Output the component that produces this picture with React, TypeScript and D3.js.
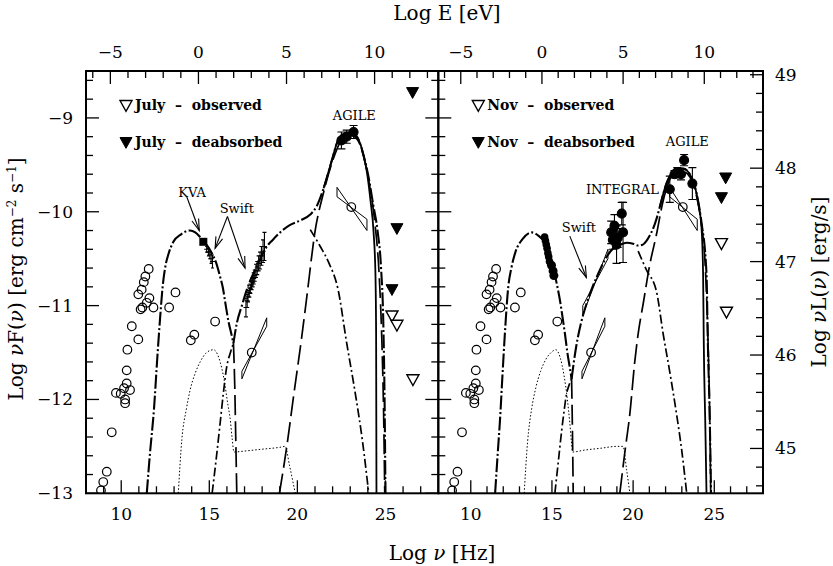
import React from "react";
import * as d3 from "d3";

type Pt = [number, number];
type ErrPt = [number, number, number];

// ---------------- axis constants / tick labels ----------------
const LOG_HZ_PER_EV = 14.3836;
const nuDomain: Pt = [8, 28];
const fDomain: Pt = [-13, -8.5];
const lDomain: Pt = [44.52, 49.04];
const nuTickLabels = [10, 15, 20, 25];
const eTickLabels = [-5, 0, 5, 10];
const fTickLabels = [-13, -12, -11, -10, -9];
const lTickLabels = [45, 46, 47, 48, 49];

// ---------------- archival data (both panels) ----------------
const archivalCircles: Pt[] = [
  [8.85, -12.97], [8.98, -12.88], [9.18, -12.77], [9.46, -12.35], [9.7, -11.93],
  [9.97, -11.94], [10.16, -11.88], [10.22, -12.0], [10.22, -12.04], [10.31, -11.83],
  [10.5, -11.9], [10.31, -11.69], [10.35, -11.47], [10.6, -11.22], [10.97, -11.36],
  [10.97, -10.88], [11.16, -10.83], [11.1, -11.04], [11.2, -11.02], [11.45, -10.97],
  [11.6, -10.92], [11.83, -11.02], [11.28, -10.75], [11.37, -10.69], [11.56, -10.61],
  [12.72, -11.02], [13.08, -10.86], [13.95, -11.37], [14.15, -11.31], [15.33, -11.17],
  [17.41, -11.5], [23.06, -9.95],
];
const archivalXrayBowtie: Pt[] = [[16.85, -11.78], [18.26, -11.13], [18.26, -11.22], [16.85, -11.7]];
const archivalGammaBowtie: Pt[] = [[22.25, -9.74], [23.95, -10.2], [23.95, -10.08], [22.25, -9.84]];

// ---------------- July data ----------------
const julyKVA: Pt[] = [[14.66, -10.32]];
const julyUVOT: ErrPt[] = [[14.85, -10.4, 0.03], [14.95, -10.43, 0.04], [15.03, -10.46, 0.04], [15.1, -10.5, 0.05], [15.18, -10.53, 0.07]];
const julyXRT: ErrPt[] = [
  [17.08, -11.02, 0.1], [17.15, -10.95, 0.07], [17.2, -10.9, 0.06], [17.27, -10.86, 0.05],
  [17.33, -10.82, 0.05], [17.4, -10.78, 0.05], [17.46, -10.75, 0.05], [17.52, -10.71, 0.06],
  [17.58, -10.68, 0.06], [17.65, -10.63, 0.07], [17.72, -10.6, 0.07], [17.8, -10.55, 0.08],
  [17.88, -10.52, 0.09], [17.96, -10.47, 0.1], [18.05, -10.42, 0.12], [18.13, -10.37, 0.15],
];
const julyAGILE: ErrPt[] = [[22.5, -9.24, 0.09], [22.8, -9.2, 0.07], [23.19, -9.15, 0.07]];
const julyObserved: Pt[] = [[25.37, -11.11], [25.65, -11.21], [26.56, -11.79]];
const julyDeabsorbed: Pt[] = [[26.54, -8.73], [25.65, -10.18], [25.37, -10.83]];

// July model curves
const julyTotalLow: Pt[] = [
  [11.45, -13], [11.62, -12.6], [11.86, -12.1], [12.05, -11.55], [12.2, -11.15], [12.35, -10.8],
  [12.49, -10.6], [12.7, -10.44], [12.96, -10.32], [13.4, -10.24], [13.9, -10.2], [14.2, -10.22],
  [14.48, -10.27], [14.8, -10.34], [15.14, -10.44], [15.4, -10.55], [15.61, -10.69], [15.78, -10.82],
  [15.9, -10.96], [16.09, -11.17], [16.25, -11.3], [16.37, -11.4],
];
const julyTotalHigh: Pt[] = [
  [16.37, -11.4], [16.56, -11.19], [16.85, -11.0], [17.13, -10.83], [17.4, -10.7], [17.7, -10.58],
  [18.0, -10.46], [18.27, -10.37], [18.6, -10.3], [19.02, -10.22], [19.59, -10.14], [20.2, -10.09],
  [20.73, -10.03], [21.1, -9.94], [21.49, -9.75], [21.96, -9.45], [22.24, -9.27], [22.53, -9.18],
  [23.0, -9.15], [23.38, -9.2], [23.76, -9.4], [24.04, -9.63], [24.3, -9.92], [24.55, -10.2],
  [24.75, -10.6], [24.88, -11.2], [24.95, -12.0], [25.0, -13],
];
const julyAbsorbed: Pt[] = [
  [21.49, -9.75], [21.96, -9.45], [22.24, -9.27], [22.53, -9.18], [23.0, -9.15], [23.38, -9.2],
  [23.76, -9.4], [23.95, -9.58], [24.15, -9.88], [24.33, -10.23], [24.43, -10.65], [24.47, -11.3], [24.49, -13],
];
const julySyncTail: Pt[] = [[16.37, -11.4], [16.45, -11.9], [16.5, -12.4], [16.56, -13]];
const julySscLow: Pt[] = [[15.16, -13], [15.4, -12.62], [15.61, -12.26], [15.8, -11.93], [15.99, -11.65], [16.2, -11.5], [16.37, -11.4]];
const julySscHigh: Pt[] = [[20.73, -10.19], [21.3, -10.37], [21.8, -10.55], [22.3, -10.82], [22.8, -11.4], [23.3, -11.95], [23.7, -12.45], [24.05, -13]];
const julyEC: Pt[] = [
  [18.98, -13], [19.4, -12.5], [19.78, -11.97], [20.25, -11.33], [20.54, -10.9], [21.01, -10.2],
  [21.48, -9.8], [21.96, -9.48], [22.5, -9.24], [23.0, -9.18], [23.4, -9.23], [23.8, -9.44],
  [24.1, -9.72], [24.4, -10.12], [24.65, -10.7], [24.8, -11.4], [24.9, -12.2], [24.96, -13],
];
const julyDisk: Pt[] = [
  [13.24, -13], [13.44, -12.43], [13.7, -12.1], [13.91, -11.9], [14.2, -11.72], [14.48, -11.6],
  [14.85, -11.5], [15.24, -11.47], [15.55, -11.56], [15.85, -11.8], [16.05, -12.05], [16.18, -12.2],
  [16.3, -12.42], [16.4, -12.56], [17.0, -12.55], [18.0, -12.53], [19.0, -12.51], [19.31, -12.5],
  [19.55, -12.7], [19.75, -12.88], [19.88, -13],
];

// ---------------- November data ----------------
const novSwiftUV: Pt[] = [
  [14.55, -10.27], [14.6, -10.31], [14.65, -10.35], [14.7, -10.39], [14.75, -10.44],
  [14.8, -10.48], [14.85, -10.53], [14.97, -10.57], [15.07, -10.63], [15.12, -10.68],
];
const novXrtBowtie: Pt[] = [[16.9, -11.1], [18.45, -10.4], [18.45, -10.5], [16.9, -11.0]];
const novINTEGRAL: ErrPt[] = [
  [18.65, -10.22, 0.12], [18.75, -10.3, 0.1], [18.85, -10.15, 0.12], [18.98, -10.35, 0.2],
  [19.05, -10.28, 0.1], [19.3, -10.02, 0.12], [19.38, -10.22, 0.32],
];
const novAGILE: ErrPt[] = [
  [22.26, -9.76, 0.14], [22.55, -9.6, 0.04], [22.72, -9.58, 0.05], [22.95, -9.6, 0.06],
  [23.14, -9.45, 0.06], [23.65, -9.7, 0.17],
];
const novObserved: Pt[] = [[25.44, -10.34], [25.75, -11.07]];
const novDeabsorbed: Pt[] = [[25.7, -9.64], [25.44, -9.85]];

const novTotalLow: Pt[] = [
  [11.5, -13], [11.65, -12.6], [11.8, -12.22], [11.95, -11.75], [12.1, -11.3], [12.31, -10.8],
  [12.5, -10.6], [12.75, -10.43], [13.2, -10.29], [13.75, -10.22], [14.2, -10.26], [14.67, -10.36],
  [14.9, -10.48], [15.08, -10.6], [15.3, -10.77], [15.49, -10.94], [15.65, -11.12], [15.8, -11.3],
  [15.95, -11.5], [16.1, -11.66], [16.21, -11.78],
];
const novTotalHigh: Pt[] = [
  [16.21, -11.78], [16.35, -11.6], [16.51, -11.42], [16.8, -11.18], [17.13, -10.98], [17.5, -10.8],
  [17.85, -10.66], [18.3, -10.5], [18.77, -10.39], [19.2, -10.35], [19.6, -10.33], [20.0, -10.34],
  [20.31, -10.36], [20.6, -10.35], [20.82, -10.31], [21.0, -10.26], [21.23, -10.18], [21.45, -10.07],
  [21.64, -9.95], [22.05, -9.7], [22.36, -9.59], [22.67, -9.54], [23.08, -9.54], [23.49, -9.6],
  [23.9, -9.8], [24.2, -10.1], [24.52, -10.66], [24.6, -11.37], [24.72, -12.2], [24.8, -13],
];
const novAbsorbed: Pt[] = [
  [21.64, -9.95], [22.05, -9.7], [22.36, -9.59], [22.67, -9.54], [23.08, -9.54], [23.49, -9.6],
  [23.9, -9.8], [24.1, -10.0], [24.21, -10.16], [24.31, -10.66], [24.35, -11.37], [24.45, -12.3], [24.52, -13],
];
const novSyncTail: Pt[] = [[16.21, -11.78], [16.26, -12.3], [16.31, -13]];
const novSscLow: Pt[] = [[15.18, -13], [15.4, -12.65], [15.6, -12.33], [15.75, -12.12], [15.9, -11.94], [16.05, -11.85], [16.21, -11.78]];
const novSscHigh: Pt[] = [[20.31, -10.42], [20.82, -10.62], [21.44, -10.85], [21.85, -11.3], [22.3, -11.75], [22.67, -12.15], [23.0, -12.55], [23.3, -13]];
const novEC: Pt[] = [
  [19.18, -13], [19.5, -12.55], [19.8, -12.15], [20.1, -11.6], [20.31, -11.3], [20.62, -10.98],
  [21.03, -10.56], [21.44, -10.24], [21.8, -9.92], [22.2, -9.68], [22.67, -9.57], [23.08, -9.57],
  [23.5, -9.63], [23.9, -9.83], [24.2, -10.12], [24.45, -10.6], [24.6, -11.3], [24.72, -12.2], [24.78, -13],
];
const novDisk: Pt[] = [
  [13.29, -13], [13.5, -12.45], [13.75, -12.1], [14.0, -11.88], [14.3, -11.7], [14.6, -11.58],
  [14.95, -11.5], [15.24, -11.47], [15.5, -11.55], [15.75, -11.75], [15.95, -12.0], [16.1, -12.25],
  [16.2, -12.45], [16.27, -12.56], [17.0, -12.54], [18.0, -12.52], [19.0, -12.5], [19.38, -12.5],
  [19.6, -12.75], [19.8, -13],
];

// ---------------- annotations (data coords) ----------------
const julyLabels: { t: string; at: Pt }[] = [
  { t: "KVA", at: [14.02, -9.84] },
  { t: "Swift", at: [16.56, -10.01] },
  { t: "AGILE", at: [23.23, -9.02] },
];
const julyArrows: Pt[][] = [
  [[13.72, -9.84], [14.43, -10.2]],
  [[16.03, -10.05], [15.33, -10.39]],
  [[16.03, -10.05], [17.03, -10.6]],
];
const novLabels: { t: string; at: Pt }[] = [
  { t: "Swift", at: [16.66, -10.22] },
  { t: "INTEGRAL", at: [19.34, -9.81] },
  { t: "AGILE", at: [23.34, -9.3] },
];
const novArrows: Pt[][] = [[[16.1, -10.26], [17.12, -10.7]]];

// ---------------- layout ----------------
const W = 833, H = 566;
const Y_TOP = 71, Y_BOT = 493.3;
const yF = d3.scaleLinear().domain(fDomain).range([Y_BOT, Y_TOP]);
const yL = d3.scaleLinear().domain(lDomain).range([Y_BOT, Y_TOP]);
const xLeft = d3.scaleLinear().domain(nuDomain).range([86, 438.3]);
const xRight = d3.scaleLinear().domain(nuDomain).range([438.3, 763]);

const FONT = "'DejaVu Serif', serif";
const MAJ = 13, MIN = 7;

const styles: Record<string, { w: number; dash?: string }> = {
  total: { w: 2.1, dash: "14,2.5,2,2.5" },
  abs: { w: 1.8 },
  ssc: { w: 1.7, dash: "9,3,2,3" },
  ldash: { w: 1.7, dash: "20,6" },
  dot: { w: 1, dash: "1.5,2" },
};

const fmt = (v: number) => (v < 0 ? "\u2212" + Math.abs(v) : String(v));
const isInt = (v: number) => Math.abs(v - Math.round(v)) < 1e-6;

type Cfg = {
  id: string;
  xs: d3.ScaleLinear<number, number>;
  curves: { d: Pt[]; s: string }[];
  bowties: Pt[][];
  circles: Pt[];
  observed: Pt[];
  deabsorbed: Pt[];
  labels: { t: string; at: Pt }[];
  arrows: Pt[][];
  legend: string;
  leftLabels: boolean;
  rightL: boolean;
  extra: (xs: d3.ScaleLinear<number, number>) => React.ReactNode;
};

const triPath = (cx: number, cy: number) => `M${cx - 6},${cy - 5} L${cx + 6},${cy - 5} L${cx},${cy + 5.8} Z`;

function ErrBars({ xs, data, cap, dot }: { xs: d3.ScaleLinear<number, number>; data: ErrPt[]; cap: number; dot: "circle" | "cross" }) {
  return (
    <g stroke="#000" strokeWidth={1.1}>
      {data.map(([n, f, e], i) => {
        const x = xs(n), y = yF(f), yt = yF(f + e), yb = yF(f - e);
        return (
          <g key={i}>
            <line x1={x} x2={x} y1={yt} y2={yb} />
            <line x1={x - cap / 2} x2={x + cap / 2} y1={yt} y2={yt} />
            <line x1={x - cap / 2} x2={x + cap / 2} y1={yb} y2={yb} />
            {dot === "circle" ? (
              <circle cx={x} cy={y} r={4.5} fill="#000" />
            ) : (
              <line x1={x - 2.5} x2={x + 2.5} y1={y} y2={y} />
            )}
          </g>
        );
      })}
    </g>
  );
}

function Arrow({ xs, a }: { xs: d3.ScaleLinear<number, number>; a: Pt[] }) {
  const x1 = xs(a[0][0]), y1 = yF(a[0][1]), x2 = xs(a[1][0]), y2 = yF(a[1][1]);
  const th = Math.atan2(y2 - y1, x2 - x1);
  const L = 12, sp = 0.3;
  const h1 = [x2 - L * Math.cos(th - sp), y2 - L * Math.sin(th - sp)];
  const h2 = [x2 - L * Math.cos(th + sp), y2 - L * Math.sin(th + sp)];
  return (
    <g stroke="#000" strokeWidth={1.1} fill="none">
      <line x1={x1} y1={y1} x2={x2} y2={y2} />
      <polyline points={`${h1[0]},${h1[1]} ${x2},${y2} ${h2[0]},${h2[1]}`} />
    </g>
  );
}

function Panel({ cfg }: { cfg: Cfg }) {
  const { xs } = cfg;
  const [x0, x1] = xs.range();
  const gen = d3.line<Pt>().x((d) => xs(d[0])).y((d) => yF(d[1])).curve(d3.curveMonotoneX);
  const nuMinor = d3.range(9, 28);
  const eMinor = d3.range(-7, 15).filter((e) => {
    const x = xs(e + LOG_HZ_PER_EV);
    return x > x0 + 1 && x < x1 - 1;
  });
  const fTicks = d3.range(0, 23).map((k) => -13 + k * 0.2);
  const lTicks = d3.range(0, 23).map((k) => 44.6 + k * 0.2);
  const clip = `clip-${cfg.id}`;
  const legX = x0 + 40;
  return (
    <g>
      <defs>
        <clipPath id={clip}>
          <rect x={x0} y={Y_TOP} width={x1 - x0} height={Y_BOT - Y_TOP} />
        </clipPath>
      </defs>
      <g clipPath={`url(#${clip})`}>
        {cfg.curves.map((c, i) => (
          <path key={i} d={gen(c.d) || ""} fill="none" stroke="#000" strokeWidth={styles[c.s].w}
            strokeDasharray={styles[c.s].dash} />
        ))}
        {cfg.bowties.map((b, i) => (
          <path key={i} d={"M" + b.map((p) => `${xs(p[0])},${yF(p[1])}`).join("L") + "Z"} fill="none" stroke="#000" strokeWidth={1} />
        ))}
        {cfg.circles.map((p, i) => (
          <circle key={i} cx={xs(p[0])} cy={yF(p[1])} r={4.3} fill="none" stroke="#000" strokeWidth={1.2} />
        ))}
        {cfg.extra(xs)}
        {cfg.observed.map((p, i) => (
          <path key={i} d={triPath(xs(p[0]), yF(p[1]))} fill="#fff" stroke="#000" strokeWidth={1.4} />
        ))}
        {cfg.deabsorbed.map((p, i) => (
          <path key={i} d={triPath(xs(p[0]), yF(p[1]))} fill="#000" stroke="#000" strokeWidth={1} />
        ))}
        {cfg.arrows.map((a, i) => <Arrow key={i} xs={xs} a={a} />)}
      </g>
      {cfg.labels.map((l, i) => (
        <text key={i} x={xs(l.at[0])} y={yF(l.at[1])} textAnchor="middle" fontFamily={FONT} fontSize={13}>{l.t}</text>
      ))}
      {/* legend */}
      <path d={triPath(legX, 105.5)} fill="#fff" stroke="#000" strokeWidth={1.4} />
      <path d={triPath(legX, 142.5)} fill="#000" stroke="#000" strokeWidth={1} />
      <text x={legX + 9} y={110} fontFamily={FONT} fontWeight="bold" fontSize={14} style={{ whiteSpace: "pre" }}>
        {cfg.legend + "  \u2013  observed"}
      </text>
      <text x={legX + 9} y={147} fontFamily={FONT} fontWeight="bold" fontSize={14} style={{ whiteSpace: "pre" }}>
        {cfg.legend + "  \u2013  deabsorbed"}
      </text>

      {/* ticks */}
      <g stroke="#000" strokeWidth={1.3}>
        {nuMinor.map((v) => {
          const x = xs(v), L = v % 5 === 0 ? MAJ : MIN;
          return <line key={"b" + v} x1={x} x2={x} y1={Y_BOT} y2={Y_BOT - L} />;
        })}
        {eMinor.map((e) => {
          const x = xs(e + LOG_HZ_PER_EV), L = e % 5 === 0 ? MAJ : MIN;
          return <line key={"t" + e} x1={x} x2={x} y1={Y_TOP} y2={Y_TOP + L} />;
        })}
        {fTicks.map((v, i) => {
          const y = yF(v), L = isInt(v) ? MAJ : MIN;
          return <line key={"l" + i} x1={x0} x2={x0 + L} y1={y} y2={y} />;
        })}
        {cfg.rightL
          ? lTicks.map((v, i) => {
              const y = yL(v), L = isInt(v) ? MAJ : MIN;
              return <line key={"r" + i} x1={x1} x2={x1 - L} y1={y} y2={y} />;
            })
          : fTicks.map((v, i) => {
              const y = yF(v), L = isInt(v) ? MAJ : MIN;
              return <line key={"r" + i} x1={x1} x2={x1 - L} y1={y} y2={y} />;
            })}
      </g>
      <rect x={x0} y={Y_TOP} width={x1 - x0} height={Y_BOT - Y_TOP} fill="none" stroke="#000" strokeWidth={2} />

      {/* tick labels */}
      <g fontFamily={FONT} fontSize={17} fill="#000">
        {nuTickLabels.map((v) => (
          <text key={"bl" + v} x={xs(v)} y={520} textAnchor="middle">{fmt(v)}</text>
        ))}
        {eTickLabels.map((e) => (
          <text key={"tl" + e} x={xs(e + LOG_HZ_PER_EV)} y={58} textAnchor="middle">{fmt(e)}</text>
        ))}
        {cfg.leftLabels &&
          fTickLabels.map((v) => (
            <text key={"ll" + v} x={x0 - 13} y={yF(v) + 6} textAnchor="end">{fmt(v)}</text>
          ))}
        {cfg.rightL &&
          lTickLabels.map((v) => (
            <text key={"rl" + v} x={x1 + 12} y={yL(v) + 6} textAnchor="start">{fmt(v)}</text>
          ))}
      </g>
    </g>
  );
}

const julyCfg: Cfg = {
  id: "july",
  xs: xLeft,
  curves: [
    { d: julyDisk, s: "dot" },
    { d: julySscLow, s: "ssc" },
    { d: julySscHigh, s: "ssc" },
    { d: julyEC, s: "ldash" },
    { d: julySyncTail, s: "ldash" },
    { d: julyTotalLow, s: "total" },
    { d: julyTotalHigh, s: "total" },
    { d: julyAbsorbed, s: "abs" },
  ],
  bowties: [archivalXrayBowtie, archivalGammaBowtie],
  circles: archivalCircles,
  observed: julyObserved,
  deabsorbed: julyDeabsorbed,
  labels: julyLabels,
  arrows: julyArrows,
  legend: "July",
  leftLabels: true,
  rightL: false,
  extra: (xs) => (
    <g>
      {julyKVA.map((p, i) => (
        <rect key={i} x={xs(p[0]) - 4} y={yF(p[1]) - 4} width={8} height={8} fill="#000" />
      ))}
      <ErrBars xs={xs} data={julyUVOT} cap={3} dot="cross" />
      <ErrBars xs={xs} data={julyXRT} cap={4} dot="cross" />
      <ErrBars xs={xs} data={julyAGILE} cap={8} dot="circle" />
    </g>
  ),
};

const novCfg: Cfg = {
  id: "nov",
  xs: xRight,
  curves: [
    { d: novDisk, s: "dot" },
    { d: novSscLow, s: "ssc" },
    { d: novSscHigh, s: "ssc" },
    { d: novEC, s: "ldash" },
    { d: novSyncTail, s: "ldash" },
    { d: novTotalLow, s: "total" },
    { d: novTotalHigh, s: "total" },
    { d: novAbsorbed, s: "abs" },
  ],
  bowties: [archivalXrayBowtie, archivalGammaBowtie, novXrtBowtie],
  circles: archivalCircles,
  observed: novObserved,
  deabsorbed: novDeabsorbed,
  labels: novLabels,
  arrows: novArrows,
  legend: "Nov",
  leftLabels: false,
  rightL: true,
  extra: (xs) => (
    <g>
      {novSwiftUV.map((p, i) => (
        <circle key={i} cx={xs(p[0])} cy={yF(p[1])} r={i >= 7 ? 4.5 : 3.8} fill="#000" />
      ))}
      <ErrBars xs={xs} data={novINTEGRAL} cap={8} dot="circle" />
      <ErrBars xs={xs} data={novAGILE} cap={8} dot="circle" />
    </g>
  ),
};

export default function App() {
  const nu = <tspan fontStyle="italic">ν</tspan>;
  return (
    <svg width={W} height={H} viewBox={`0 0 ${W} ${H}`} style={{ position: "absolute", left: 0, top: 0, background: "#fff" }}>
      <rect x={0} y={0} width={W} height={H} fill="#fff" />
      <Panel cfg={julyCfg} />
      <Panel cfg={novCfg} />
      <g fontFamily={FONT} fontSize={20} fill="#000" style={{ whiteSpace: "pre" }}>
        <text x={447} y={20} textAnchor="middle">Log E [eV]</text>
        <text x={442} y={560} textAnchor="middle">Log {nu} [Hz]</text>
        <text transform="translate(23,279) rotate(-90)" textAnchor="middle">
          Log {nu}F({nu})  [erg cm<tspan dy={-7} fontSize={12}>−2</tspan><tspan dy={7}> s</tspan>
          <tspan dy={-7} fontSize={12}>−1</tspan><tspan dy={7}>]</tspan>
        </text>
        <text transform="translate(826,282) rotate(-90)" textAnchor="middle">
          Log {nu}L({nu})  [erg/s]
        </text>
      </g>
    </svg>
  );
}
